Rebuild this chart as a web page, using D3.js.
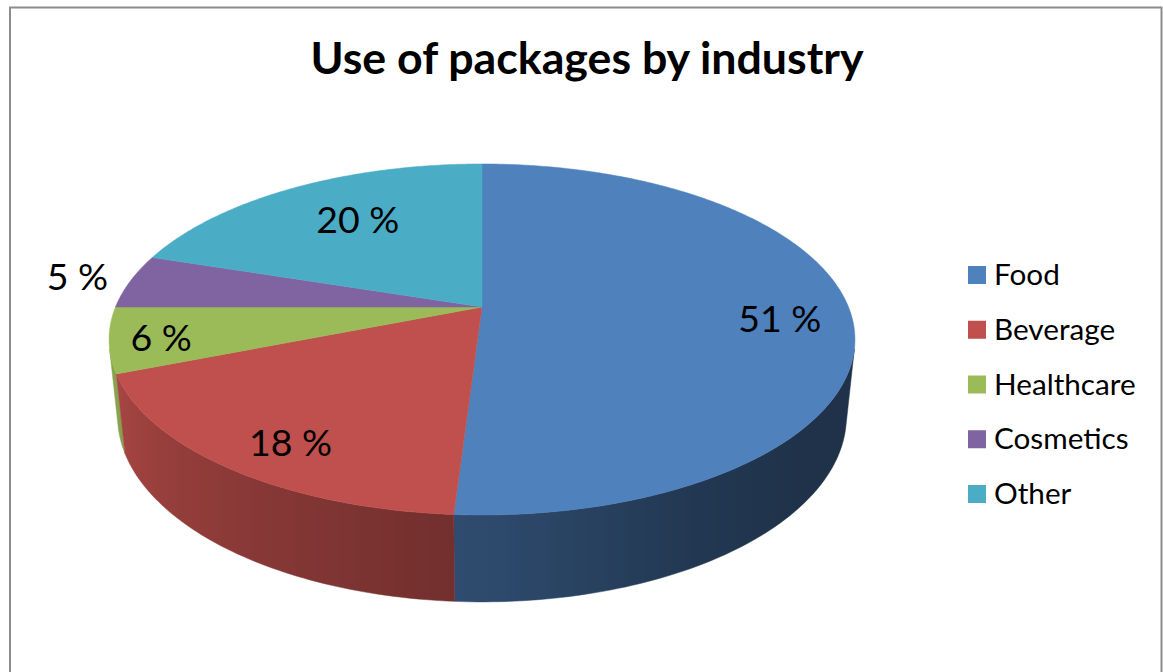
<!DOCTYPE html>
<html>
<head>
<meta charset="utf-8">
<script src="https://cdn.jsdelivr.net/npm/d3@7"></script>
<style>
  html, body { margin: 0; padding: 0; background: #fff; overflow: hidden; }
  svg { display: block; }
  text { font-family: Lato, "Open Sans", sans-serif; fill: #000; }
</style>
</head>
<body>
<svg id="chart" width="1163" height="672"></svg>
<script>
// Chart content
const chartTitle = "Use of packages by industry";
const categories = ["Food", "Beverage", "Healthcare", "Cosmetics", "Other"];
const shares = [51, 18, 6, 5, 20];
const colours = ["#4f81bd", "#c0504d", "#9bbb59", "#8064a2", "#4bacc6"];

// Label placement: radial fraction of the disc and a small angular nudge in degrees
const labelRadius = [0.805, 0.835, 0.865, 1.155, 0.68];
const labelNudge = [3.2, -3, -1, 0, 2.6];

const width = 1163, height = 672;
const svg = d3.select("#chart");

// Perspective camera for the tilted disc
const cx = 482, cy = 307;
const spreadX = 366.5, spreadY = 169.5, tilt = 0.185;
const drop = 77.5, dropShrink = 0.0226;

// Maps an angle clockwise from 12 o'clock, a radial fraction and a depth (0 top face, 1 bottom face) to the screen
function project(angle, r, depth) {
  const u = r * Math.sin(angle), v = r * Math.cos(angle);
  const w = 1 + tilt * v + dropShrink * depth;
  return [cx + spreadX * u / w, cy + (-spreadY * v + drop * depth) / w];
}

const line = d3.line();
const rad = d => d * Math.PI / 180;
const deg = r => r * 180 / Math.PI;

const arcs = d3.pie().sort(null).value(d => d)(shares);

// Side wall lighting: darkens from the left flank towards the lower right
const sideShade = d3.scaleLinear()
  .domain([60, 130, 150, 183, 230, 250, 300])
  .range([0.38, 0.39, 0.43, 0.59, 0.78, 0.87, 0.9])
  .clamp(true);

// Frame around the chart area
const frameGroup = svg.append("g").attr("fill", "none");
frameGroup.append("path").attr("d", line([[10, height], [10, 7.5], [1161.5, 7.5], [1161.5, height]]))
  .attr("stroke", "#8c8c8c").attr("stroke-width", 2);

const defs = svg.append("defs");

// The wall's vertical edges converge here; a wall point faces the viewer when
// the rim turns away from this point, which gives the two silhouette angles
const vanish = [cx, cy + drop / dropShrink];
const facesViewer = t => {
  const p = project(rad(t), 1, 0), q = project(rad(t + 0.1), 1, 0);
  return (q[0] - p[0]) * (vanish[1] - p[1]) - (q[1] - p[1]) * (vanish[0] - p[0]) < 0;
};
const frontAngles = d3.range(0, 360, 0.1).filter(facesViewer);
const faceFrom = d3.min(frontAngles), faceTo = d3.max(frontAngles);

// Side wall: one band per front-facing slice, each with a horizontal lighting gradient
const sideWall = svg.append("g");
arcs.map((a, i) => ({ a, i }))
  .filter(({ a }) => deg(a.endAngle) > faceFrom && deg(a.startAngle) < faceTo)
  .sort((p, q) => Math.abs(deg(q.a.startAngle + q.a.endAngle) / 2 - 180) - Math.abs(deg(p.a.startAngle + p.a.endAngle) / 2 - 180))
  .forEach(({ a, i }) => {
    const from = Math.max(deg(a.startAngle), faceFrom), to = Math.min(deg(a.endAngle), faceTo);
    const angles = d3.range(from, to, 1).concat([to]);
    const base = d3.rgb(colours[i]);
    const xs = angles.map(t => project(rad(t), 1, 0.5)[0]);
    const x0 = d3.min(xs), x1 = d3.max(xs);
    // Stops follow the angle, ordered by their screen position
    const stops = angles.map((t, k) => ({ x: xs[k], t })).sort((p, q) => p.x - q.x);
    const grad = defs.append("linearGradient")
      .attr("id", `side-${i}`)
      .attr("gradientUnits", "userSpaceOnUse")
      .attr("x1", x0).attr("x2", x1).attr("y1", 0).attr("y2", 0);
    grad.selectAll("stop").data(stops).join("stop")
      .attr("offset", d => (d.x - x0) / (x1 - x0))
      .attr("stop-color", d => {
        const f = sideShade(d.t);
        return d3.rgb(base.r * f, base.g * f, base.b * f).formatHex();
      });
    const pts = angles.map(t => project(rad(t), 1, 0))
      .concat(angles.slice().reverse().map(t => project(rad(t), 1, 1)));
    sideWall.append("path").attr("d", line(pts) + "Z")
      .attr("fill", `url(#side-${i})`)
      .attr("stroke", `url(#side-${i})`)
      .attr("stroke-width", 0.5);
  });

// Top face of the pie
const topFace = svg.append("g");
topFace.selectAll("path").data(arcs).join("path")
  .attr("d", a => {
    const from = deg(a.startAngle), to = deg(a.endAngle);
    const pts = [project(0, 0, 0)];
    for (let t = from; t < to; t += 0.5) pts.push(project(rad(t), 1, 0));
    pts.push(project(a.endAngle, 1, 0));
    return line(pts) + "Z";
  })
  .attr("fill", (a, i) => colours[i])
  .attr("stroke", (a, i) => colours[i])
  .attr("stroke-width", 0.5)
  .attr("stroke-linejoin", "round");

// Value labels
svg.append("g").selectAll("text").data(arcs).join("text")
  .attr("transform", (a, i) => {
    const mid = (a.startAngle + a.endAngle) / 2 + rad(labelNudge[i]);
    return `translate(${project(mid, labelRadius[i], 0)})`;
  })
  .attr("text-anchor", "middle")
  .attr("dominant-baseline", "central")
  .attr("dy", -1.5)
  .attr("font-size", 37.5)
  .text(a => `${a.value} %`);

// Title
svg.append("text").attr("x", 587).attr("y", 74)
  .attr("text-anchor", "middle")
  .attr("font-size", 44.7).attr("font-weight", 700)
  .text(chartTitle);

// Legend
const legendRow = d3.scalePoint().domain(categories).range([275, 494]);
const legend = svg.append("g").selectAll("g").data(categories).join("g")
  .attr("transform", d => `translate(968,${legendRow(d)})`);
legend.append("rect").attr("x", 0).attr("y", -9).attr("width", 18).attr("height", 18)
  .attr("fill", (d, i) => colours[i]);
legend.append("text").attr("x", 26).attr("y", -1.5)
  .attr("dominant-baseline", "central")
  .attr("font-size", 29.7)
  .text(d => d);
</script>
</body>
</html>
